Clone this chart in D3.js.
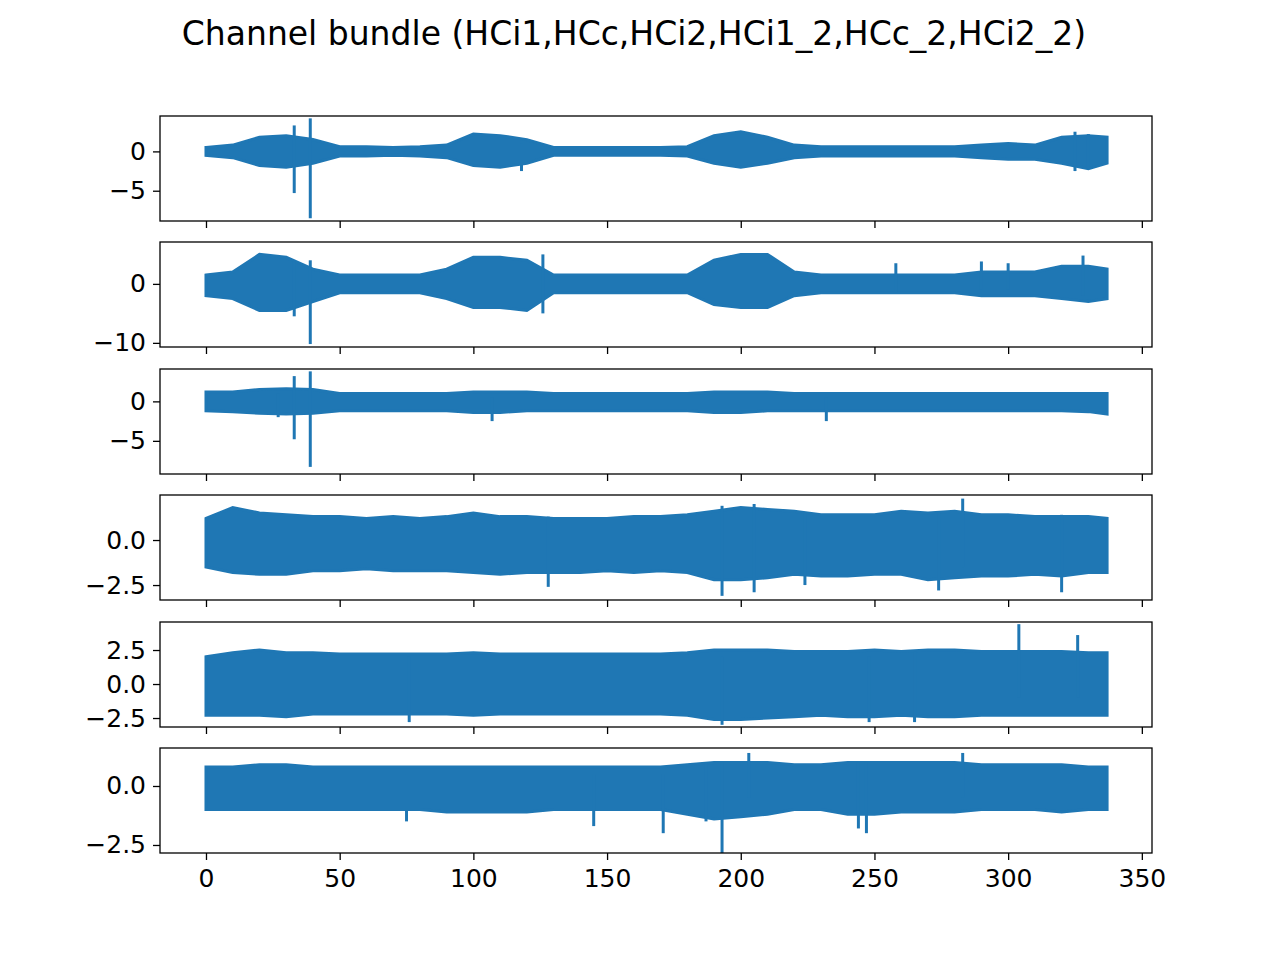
<!DOCTYPE html>
<html><head><meta charset="utf-8">
<script src="https://cdn.jsdelivr.net/npm/d3@7"></script>
<style>body{margin:0;background:#fff}text{font-family:"DejaVu Sans",sans-serif}</style>
</head><body><div id="chart"></div>
<script>
// sample times (s) for the envelope of each channel
const times = [0,10,20,30,40,50,60,70,80,90,100,110,120,130,140,150,160,170,180,190,200,210,220,230,240,250,260,270,280,290,300,310,320,330,337]
const channels = ["HCi1","HCc","HCi2","HCi1_2","HCc_2","HCi2_2"]
const upper = [
  [0.5,0.8,1.8,2,1.5,0.6,0.6,0.5,0.6,0.8,2.2,2,1.5,0.5,0.5,0.5,0.5,0.5,0.6,2,2.5,1.8,0.8,0.6,0.6,0.6,0.6,0.6,0.6,0.8,1,0.8,1.8,2,1.8],
  [1.5,2,5,4.5,2.5,1.5,1.5,1.5,1.5,2.5,4.5,4.5,4,1.5,1.5,1.5,1.5,1.5,1.5,4,5,5,2,1.5,1.5,1.5,1.5,1.5,1.5,2,2,2,3,3,2.5],
  [1.2,1.2,1.5,1.6,1.5,1,1,1,1,1,1.2,1.2,1.2,1,1,1,1,1,1,1.2,1.2,1.2,1,1,1,1,1,1,1,1,1,1,1,1,1],
  [1.2,1.8,1.5,1.4,1.3,1.3,1.2,1.3,1.2,1.3,1.5,1.3,1.3,1.2,1.2,1.2,1.3,1.3,1.4,1.6,1.8,1.7,1.6,1.4,1.4,1.4,1.6,1.5,1.6,1.4,1.4,1.3,1.3,1.3,1.2],
  [2,2.3,2.5,2.3,2.3,2.2,2.2,2.2,2.2,2.2,2.3,2.2,2.2,2.2,2.2,2.2,2.2,2.2,2.3,2.5,2.5,2.5,2.4,2.4,2.4,2.5,2.4,2.5,2.5,2.4,2.4,2.4,2.4,2.3,2.3],
  [0.8,0.8,0.9,0.9,0.8,0.8,0.8,0.8,0.8,0.8,0.8,0.8,0.8,0.8,0.8,0.8,0.8,0.8,0.9,1,1,1,0.9,0.9,1,1,1,1,1,0.9,0.9,0.9,0.9,0.8,0.8]
]
const lower = [
  [-0.5,-0.8,-1.8,-2,-1.5,-0.6,-0.6,-0.5,-0.6,-0.8,-1.8,-2,-1.5,-0.5,-0.5,-0.5,-0.5,-0.5,-0.6,-1.5,-2,-1.5,-0.8,-0.6,-0.6,-0.6,-0.6,-0.6,-0.6,-0.8,-1,-1,-1.5,-2.2,-1.5],
  [-2,-2.5,-4.5,-4.5,-3,-1.5,-1.5,-1.5,-1.5,-2.5,-4,-4,-4.5,-1.5,-1.5,-1.5,-1.5,-1.5,-1.5,-3.5,-4,-4,-2,-1.5,-1.5,-1.5,-1.5,-1.5,-1.5,-2,-2,-2,-2.5,-3,-2.5],
  [-1.2,-1.3,-1.5,-1.6,-1.5,-1.2,-1.2,-1.2,-1.2,-1.2,-1.4,-1.4,-1.2,-1.2,-1.2,-1.2,-1.2,-1.2,-1.2,-1.4,-1.4,-1.2,-1.2,-1.2,-1.2,-1.2,-1.2,-1.2,-1.2,-1.2,-1.2,-1.2,-1.2,-1.3,-1.6],
  [-1.5,-1.8,-1.9,-1.9,-1.7,-1.7,-1.6,-1.7,-1.7,-1.7,-1.8,-1.9,-1.8,-1.8,-1.8,-1.7,-1.8,-1.7,-1.8,-2.2,-2.2,-2.1,-1.9,-2,-2,-1.9,-1.9,-2.2,-2.1,-2,-2,-1.9,-2,-1.8,-1.8],
  [-2.3,-2.3,-2.3,-2.4,-2.2,-2.2,-2.2,-2.2,-2.2,-2.2,-2.3,-2.2,-2.2,-2.2,-2.2,-2.2,-2.2,-2.2,-2.3,-2.6,-2.6,-2.5,-2.4,-2.3,-2.4,-2.4,-2.3,-2.4,-2.4,-2.3,-2.3,-2.3,-2.3,-2.3,-2.3],
  [-1,-1,-1,-1,-1,-1,-1,-1,-1,-1.1,-1.1,-1.1,-1.1,-1,-1,-1,-1,-1,-1.2,-1.4,-1.3,-1.2,-1,-1,-1.2,-1.2,-1.1,-1.1,-1.1,-1,-1,-1,-1.1,-1,-1]
]
// isolated spikes: [time, min, max]
const spikes = [
  [[33,-5.3,3.3],[39,-8.5,4.2],[118,-2.5,1],[325,-2.5,2.5],[330,-2.2,2.2]],
  [[33,-5.5,4],[39,-10.2,4],[126,-5,5],[258,-1.5,3.5],[290,-1,3.8],[300,-1,3.5],[328,-2,4.8]],
  [[33,-4.8,3.2],[39,-8.3,3.8],[107,-2.5,0.5],[232,-2.5,0.5],[27,-2,1]],
  [[193,-3.1,1.9],[205,-2.9,2],[283,-1.5,2.3],[320,-2.9,1.4],[224,-2.5,1.5],[274,-2.8,1.5],[128,-2.6,1.3]],
  [[304,-1,4.4],[326,-1,3.6],[193,-3,2],[76,-2.8,2],[265,-2.8,2.4],[248,-2.8,2]],
  [[193,-2.9,1],[171,-2,0.5],[145,-1.7,0.5],[247,-2,1],[244,-1.8,1],[75,-1.5,0.5],[203,-0.5,1.4],[283,-0.5,1.4],[187,-1.5,1]]
]
const yDomains = [[-8.85,4.5],[-10.7,7.1],[-9.2,4.1],[-3.33,2.5],[-3.16,4.56],[-2.84,1.61]]
const yTicks = [[-5,0],[-10,0],[-5,0],[-2.5,0],[-2.5,0,2.5],[-2.5,0]]
const xTicks = [0,50,100,150,200,250,300,350]

const W = 1280, H = 960, left = 160, right = 1152
const panelTops = [116,242,369,495,622,748], panelH = 105
const color = "#1f77b4"

const svg = d3.select("#chart").append("svg").attr("width", W).attr("height", H)
svg.append("text").attr("x", 634).attr("y", 45).attr("text-anchor", "middle")
  .style("font-size", "33px").text("Channel bundle (" + channels.join(",") + ")")

const x = d3.scaleLinear().domain([-17.2, 353.8]).range([left, right])

channels.forEach((ch, i) => {
  const top = panelTops[i]
  const y = d3.scaleLinear().domain(yDomains[i]).range([top + panelH, top])
  const g = svg.append("g")
  const clipId = "clip" + i
  g.append("clipPath").attr("id", clipId).append("rect")
    .attr("x", left).attr("y", top).attr("width", right - left).attr("height", panelH)
  const pg = g.append("g").attr("clip-path", `url(#${clipId})`)

  const area = d3.area().x(d => x(d[0])).y0(d => y(d[1])).y1(d => y(d[2]))
  pg.append("path").datum(times.map((t, k) => [t, lower[i][k], upper[i][k]]))
    .attr("d", area).attr("fill", color).attr("stroke", color).attr("stroke-width", 3)
  pg.selectAll("line.spike").data(spikes[i]).join("line").attr("class", "spike")
    .attr("x1", d => x(d[0])).attr("x2", d => x(d[0]))
    .attr("y1", d => y(d[1])).attr("y2", d => y(d[2]))
    .attr("stroke", color).attr("stroke-width", 3)

  g.append("rect").attr("x", left).attr("y", top).attr("width", right - left).attr("height", panelH)
    .attr("fill", "none").attr("stroke", "#000").attr("stroke-width", 1.3)

  const ya = g.append("g").attr("transform", `translate(${left},0)`)
    .call(d3.axisLeft(y).tickValues(yTicks[i]).tickSize(7).tickPadding(7)
      .tickFormat(v => (i >= 3 ? d3.format(".1f")(v) : d3.format("d")(v)).replace("-", "\u2212")))
  const xa = g.append("g").attr("transform", `translate(0,${top + panelH})`)
    .call(d3.axisBottom(x).tickValues(xTicks).tickSize(7).tickPadding(9)
      .tickFormat(i === 5 ? d3.format("d") : ""))
  ;[ya, xa].forEach(a => {
    a.select(".domain").remove()
    a.selectAll("line").attr("stroke", "#000").attr("stroke-width", 1.3)
    a.selectAll("text").style("font-size", "25px").attr("fill", "#000").style("font-family", "DejaVu Sans")
  })
})
</script></body></html>
